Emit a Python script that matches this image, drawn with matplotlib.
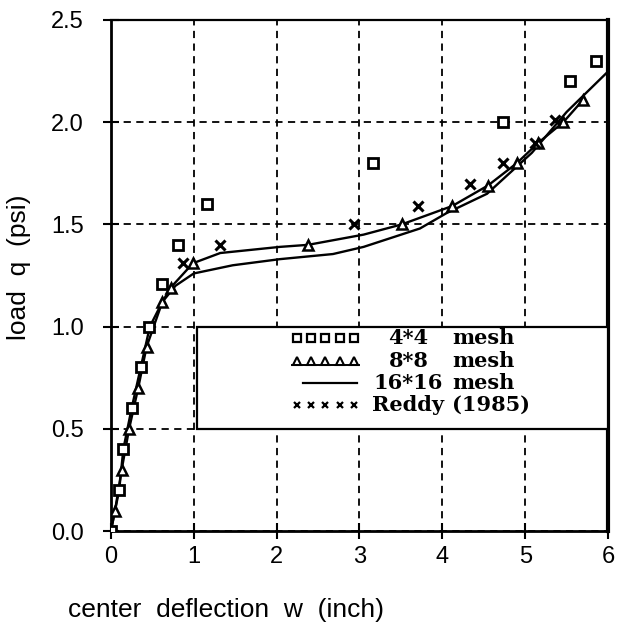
import matplotlib
matplotlib.use("Agg")
import matplotlib.pyplot as plt
from matplotlib.patches import Rectangle

# 4*4 mesh (open squares)
mesh4_w = [0.0, 0.10, 0.15, 0.25, 0.36, 0.46, 0.62, 0.81, 1.16, 3.16, 4.73, 5.54, 5.85]
mesh4_q = [0.0, 0.20, 0.40, 0.60, 0.80, 1.00, 1.21, 1.40, 1.60, 1.80, 2.00, 2.20, 2.30]

# 8*8 mesh (triangles + line)
mesh8_w = [0.0, 0.05, 0.13, 0.22, 0.33, 0.43, 0.62, 0.72, 0.99, 2.38, 3.51, 4.12, 4.55, 4.90, 5.16, 5.46, 5.70]
mesh8_q = [0.0, 0.10, 0.30, 0.50, 0.70, 0.90, 1.12, 1.19, 1.31, 1.40, 1.50, 1.59, 1.69, 1.80, 1.90, 2.00, 2.11]
mesh8_line_w = [0.0, 0.05, 0.13, 0.22, 0.33, 0.43, 0.62, 0.72, 0.99, 1.32, 2.04, 2.38, 3.05, 3.51, 4.12, 4.55, 4.90, 5.16, 5.46, 5.70]
mesh8_line_q = [0.0, 0.10, 0.30, 0.50, 0.70, 0.90, 1.12, 1.19, 1.31, 1.36, 1.39, 1.40, 1.45, 1.50, 1.59, 1.69, 1.80, 1.90, 2.00, 2.11]

# 16*16 mesh (line only)
mesh16_w = [0.0, 0.10, 0.15, 0.25, 0.36, 0.47, 0.62, 0.78, 1.00, 1.47, 2.04, 2.68, 3.05, 3.73, 4.05, 4.54, 5.08, 5.50, 6.03]
mesh16_q = [0.0, 0.20, 0.40, 0.60, 0.80, 1.00, 1.12, 1.20, 1.26, 1.30, 1.33, 1.355, 1.39, 1.48, 1.555, 1.65, 1.85, 2.05, 2.26]

# Reddy (1985)
reddy_w = [0.87, 1.32, 2.93, 3.71, 4.33, 4.73, 5.12, 5.36]
reddy_q = [1.31, 1.40, 1.50, 1.59, 1.70, 1.80, 1.90, 2.01]

legend_rows = [("4*4", "mesh"), ("8*8", "mesh"), ("16*16", "mesh"), ("Reddy", "(1985)")]

fig = plt.figure(figsize=(6.23, 6.25), dpi=100)
ax = fig.add_axes([0.178, 0.1504, 0.798, 0.8176])

ax.plot(mesh16_w, mesh16_q, color="black", lw=1.7, zorder=4)
ax.plot(mesh8_line_w, mesh8_line_q, color="black", lw=1.7, zorder=4)
ax.plot(mesh8_w, mesh8_q, ls="none", marker="^", ms=7, mfc="white", mec="black", mew=1.8, zorder=5)
ax.plot(mesh4_w, mesh4_q, ls="none", marker="s", ms=7, mfc="white", mec="black", mew=2, zorder=5)
ax.plot(reddy_w, reddy_q, ls="none", marker="x", ms=7, mec="black", mew=2.2, zorder=5)

ax.set_xlim(0, 6)
ax.set_ylim(0, 2.5)
ax.set_xticks(range(7))
ax.set_yticks([0, 0.5, 1.0, 1.5, 2.0, 2.5])
ax.set_yticklabels(["0.0", "0.5", "1.0", "1.5", "2.0", "2.5"])
ax.grid(True, color="black", ls=(0, (4, 3)), lw=1.3)
ax.set_axisbelow(True)

ax.tick_params(direction="inout", length=11, width=1.5, labelsize=17, colors="black")
ax.tick_params(axis="y", pad=14)
ax.tick_params(axis="x", pad=5)
for lab in ax.get_xticklabels() + ax.get_yticklabels():
    lab.set_fontfamily("Liberation Sans")
for side, lw in (("left", 2.0), ("bottom", 2.0), ("top", 1.6), ("right", 3.0)):
    ax.spines[side].set_linewidth(lw)

ax.set_xlabel("center  deflection  w  (inch)", fontsize=19, family="Liberation Sans")
ax.set_ylabel("load  q  (psi)", fontsize=19, family="Liberation Sans")
ax.xaxis.set_label_coords(0.231, -0.131)
ax.yaxis.set_label_coords(-0.161, 0.517)

# legend box
ax.add_patch(Rectangle((1.04, 0.5), 4.96, 0.5, facecolor="white", edgecolor="black",
                       lw=1.6, zorder=3, clip_on=False))
row_y = [0.944, 0.832, 0.726, 0.618]
sample_x = [2.25, 2.42, 2.59, 2.76, 2.93]
styles = [dict(marker="s", ms=6, mfc="white", mec="black", mew=1.6),
          dict(marker="^", ms=6, mfc="white", mec="black", mew=1.5),
          None,
          dict(marker="x", ms=5, mec="black", mew=1.6)]
for (name, tail), y, st in zip(legend_rows, row_y, styles):
    if st is None:
        ax.plot([2.32, 2.97], [y, y], color="black", lw=1.6, zorder=4)
    else:
        ax.plot(sample_x, [y] * 5, ls="none", zorder=4, **st)
    ax.text(3.59, y, name, ha="center", va="center", fontsize=15, fontweight="bold",
            family="DejaVu Serif", zorder=6)
    ax.text(4.12, y, tail, ha="left", va="center", fontsize=15, fontweight="bold",
            family="DejaVu Serif", zorder=6)
# the 8*8 sample sits on a line
ax.plot([2.18, 3.0], [row_y[1] - 0.018] * 2, color="black", lw=1.4, zorder=4)

fig.savefig("out.png", dpi=100)
